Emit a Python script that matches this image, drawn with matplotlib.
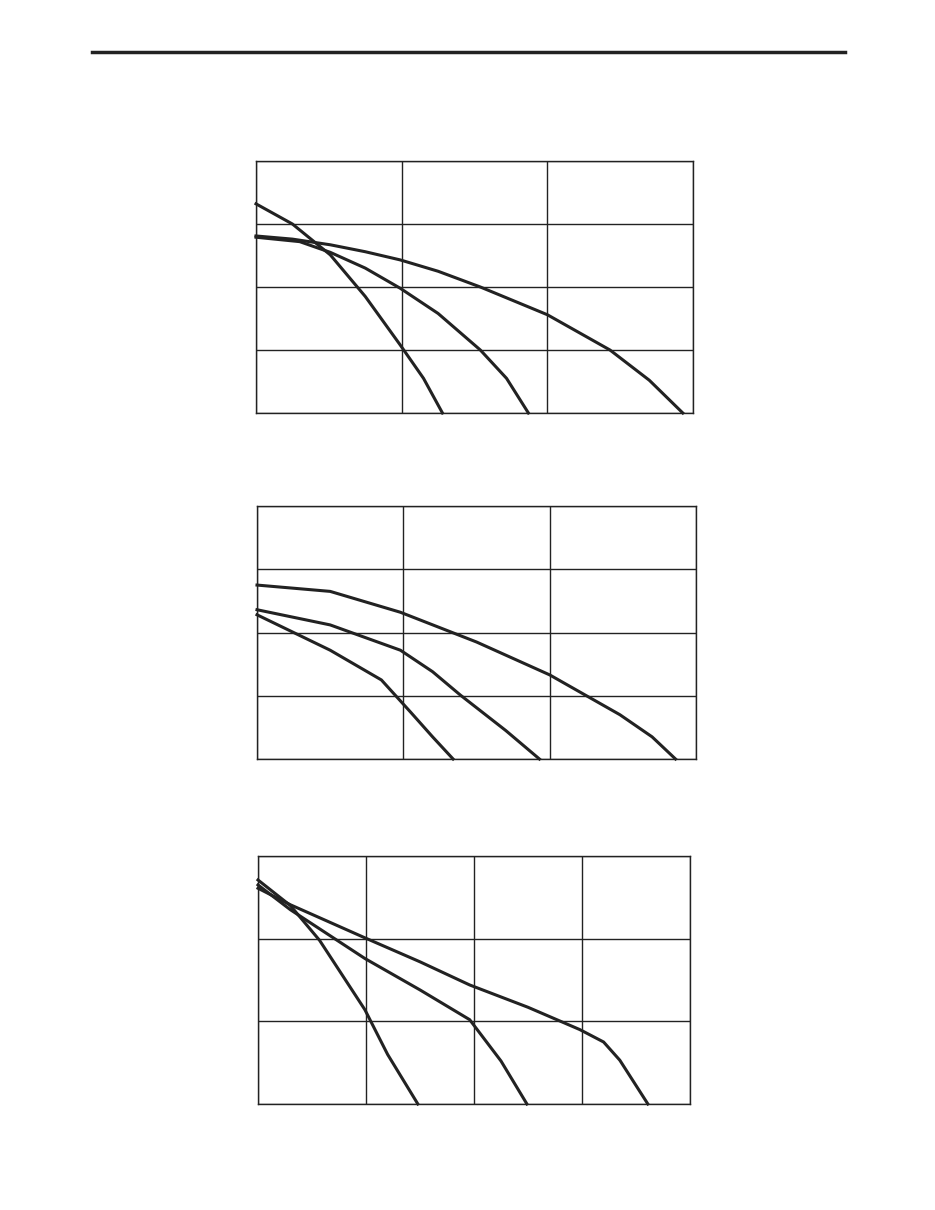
import matplotlib.pyplot as plt
import numpy as np

# panel 1 (3 x 4 grid)
p1_x = [[0, 0.25, 0.51, 0.75, 0.99, 1.15, 1.28],
        [0, 0.3, 0.51, 0.75, 0.99, 1.25, 1.54, 1.72, 1.87],
        [0, 0.25, 0.51, 0.75, 0.99, 1.25, 1.54, 2.0, 2.43, 2.7, 2.93]]
p1_y = [[3.32, 3.0, 2.51, 1.85, 1.08, 0.55, 0.0],
        [2.79, 2.72, 2.55, 2.3, 1.98, 1.58, 1.0, 0.55, 0.0],
        [2.81, 2.76, 2.67, 2.56, 2.43, 2.25, 2.0, 1.56, 1.0, 0.52, 0.0]]
# panel 2 (3 x 4 grid)
p2_x = [[0, 0.5, 0.98, 1.5, 2.0, 2.48, 2.7, 2.86],
        [0, 0.5, 0.98, 1.2, 1.39, 1.7, 1.93],
        [0, 0.5, 0.85, 1.05, 1.2, 1.34]]
p2_y = [[2.75, 2.65, 2.32, 1.85, 1.33, 0.70, 0.35, 0.0],
        [2.36, 2.12, 1.72, 1.38, 1.01, 0.45, 0.0],
        [2.28, 1.72, 1.25, 0.74, 0.35, 0.0]]
# panel 3 (4 x 3 grid)
p3_x = [[0, 0.3, 0.57, 0.99, 1.2, 1.48],
        [0, 0.3, 0.99, 1.5, 1.96, 2.25, 2.49],
        [0, 0.3, 0.99, 1.5, 1.96, 2.5, 2.98, 3.2, 3.35, 3.61]]
p3_y = [[2.71, 2.4, 1.98, 1.14, 0.6, 0.0],
        [2.65, 2.35, 1.76, 1.38, 1.02, 0.52, 0.0],
        [2.61, 2.41, 2.01, 1.72, 1.44, 1.17, 0.9, 0.75, 0.53, 0.0]]

W, H = 935, 1210
fig = plt.figure(figsize=(9.35, 12.1), dpi=100)

# top rule
fig.add_artist(plt.Line2D([92 / W, 845 / W], [1 - 52 / H, 1 - 52 / H], color='#222222', lw=2.5))


def panel(box, ncol, nrow, xs, ys):
    x0, y0, x1, y1 = box
    ax = fig.add_axes([x0 / W, 1 - y1 / H, (x1 - x0) / W, (y1 - y0) / H])
    ax.set_xlim(0, ncol)
    ax.set_ylim(0, nrow)
    ax.set_xticks(np.arange(ncol + 1))
    ax.set_yticks(np.arange(nrow + 1))
    ax.tick_params(length=0, labelbottom=False, labelleft=False)
    ax.grid(True, color='#222222', lw=1)
    for s in ax.spines.values():
        s.set_color('#222222')
        s.set_linewidth(1)
    for x, y in zip(xs, ys):
        ax.plot(x, y, color='#222222', lw=2.2, clip_on=False)


panel((256, 161, 693, 413), 3, 4, p1_x, p1_y)
panel((257, 506, 696, 759), 3, 4, p2_x, p2_y)
panel((258, 856, 690, 1104), 4, 3, p3_x, p3_y)

fig.savefig('out.png', dpi=100)
